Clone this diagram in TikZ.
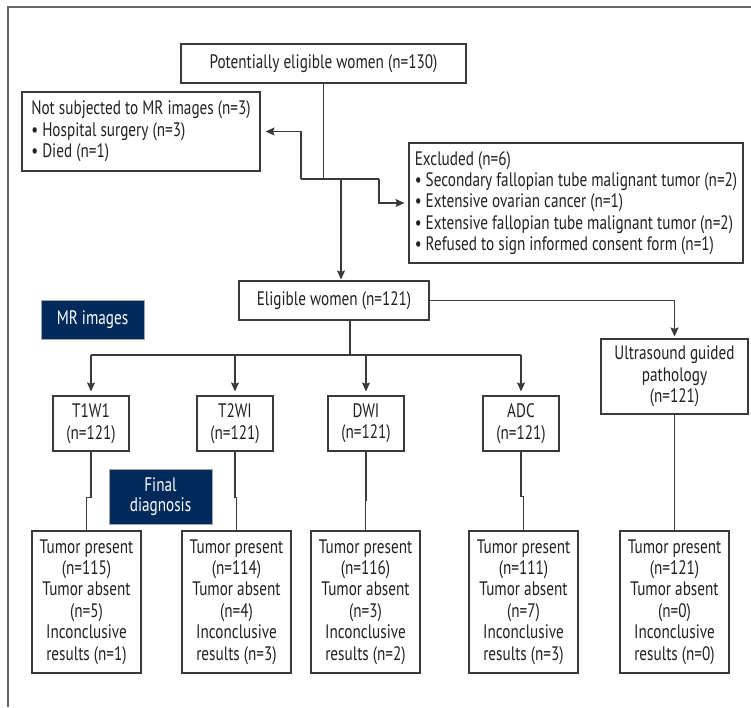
\documentclass[tikz,border=0pt]{standalone}
\usepackage{fontspec}
\setmainfont[FakeStretch=0.78]{PT Sans}
\usetikzlibrary{arrows.meta,calc}
\definecolor{navy}{RGB}{0,42,92}
\definecolor{ink}{RGB}{35,31,32}
\definecolor{wire}{RGB}{58,58,58}

\begin{document}
\begin{tikzpicture}[
  x=1pt, y=-1pt,
  font=\fontsize{19.5}{21.4}\selectfont,
  b/.style={draw=wire, line width=1.1pt, align=center, inner sep=2pt, text=ink},
  bl/.style={b, align=left},
  hb/.style={fill=navy, draw=gray!70, align=center, inner sep=2pt, text=white, minimum width=103pt},
  mri/.style={b, minimum width=76pt, minimum height=55pt},
  res/.style={b, minimum width=109pt, minimum height=142pt},
  ln/.style={draw=wire, line width=1.1pt},
  e/.style={ln, -{Stealth[length=9pt,width=8pt,inset=1.5pt]}, shorten >=3pt}
]
\useasboundingbox (0,0) rectangle (751,707);
\draw[draw=gray!80!black, line width=1.3pt] (751,7) -- (8,7) -- (8,707);

% enrolment
\node[b, minimum width=285pt, minimum height=39pt] (pot) at (323.5,63.5) {Potentially eligible women (n=130)};
\node[bl, minimum width=238pt, minimum height=79pt] (notmr) at (141,131.5) {Not subjected to MR images (n=3)\\• Hospital surgery (n=3)\\• Died (n=1)};
\node[bl, minimum width=334pt, minimum height=120pt] (excl) at (576,203) {Excluded (n=6)\\• Secondary fallopian tube malignant tumor (n=2)\\• Extensive ovarian cancer (n=1)\\• Extensive fallopian tube malignant tumor (n=2)\\• Refused to sign informed consent form (n=1)};
\node[b, minimum width=190pt, minimum height=39pt] (elig) at (334,300.5) {Eligible women (n=121)};

% labels
\node[hb, minimum height=39pt] (mrlab) at (92.5,319.5) {MR images};
\node[hb, minimum height=55pt] (fdlab) at (160.5,496.5) {Final\\[-2pt]diagnosis};

% sequences
\node[mri] (t1w1) at (91,423.5) {T1W1\\(n=121)};
\node[mri] (t2wi) at (235,423.5) {T2WI\\(n=121)};
\node[mri] (dwi) at (366,423.5) {DWI\\(n=121)};
\node[mri] (adc) at (521,423.5) {ADC\\(n=121)};
\node[b, minimum width=147pt, minimum height=75pt] (us) at (674.5,376.5) {Ultrasound guided\\pathology\\(n=121)};

% final diagnosis
\node[res] (r1) at (86.5,602) {Tumor present\\(n=115)\\Tumor absent\\(n=5)\\Inconclusive\\results (n=1)};
\node[res] (r2) at (236.5,602) {Tumor present\\(n=114)\\Tumor absent\\(n=4)\\Inconclusive\\results (n=3)};
\node[res] (r3) at (365.5,602) {Tumor present\\(n=116)\\Tumor absent\\(n=3)\\Inconclusive\\results (n=2)};
\node[res] (r4) at (523.5,602) {Tumor present\\(n=111)\\Tumor absent\\(n=7)\\Inconclusive\\results (n=3)};
\node[res] (r5) at (674.5,602) {Tumor present\\(n=121)\\Tumor absent\\(n=0)\\Inconclusive\\results (n=0)};

\coordinate (jl) at (301,179);
\coordinate (jr) at (379,179);
\coordinate (jd) at (341,179);
\coordinate (br) at (350,355);

\draw[ln] (pot) -- (pot.south |- jl);
\draw[ln] (jl) -- (jr);
\draw[e, shorten >=5pt] (jl) |- (notmr);
\draw[e, shorten >=4pt] (jr) |- (excl);
\draw[e, shorten >=1pt] (jd) -- (jd |- elig.north);
\draw[e, shorten >=2pt] (elig.east) -| (us.north);

\draw[ln] (br |- elig.south) -- (br);
\draw[ln] (t1w1.north |- br) -- (adc.north |- br);
\foreach \n in {t1w1,t2wi,dwi,adc}
  \draw[e, shorten >=4pt] (\n.north |- br) -- (\n.north);

\draw[ln] (t1w1.south) -- ++(0,46) -| (r1.north);
\draw[ln] (t2wi.south) -- ++(0,46) -| (r2.north);
\draw[ln] (dwi.south) -- ++(0,49) -| (r3.north);
\draw[ln] (adc.south) -- ++(0,45) -| (r4.north);
\draw[ln] (us.south) -- ++(0,63) -| (r5.north);
\end{tikzpicture}
\end{document}
